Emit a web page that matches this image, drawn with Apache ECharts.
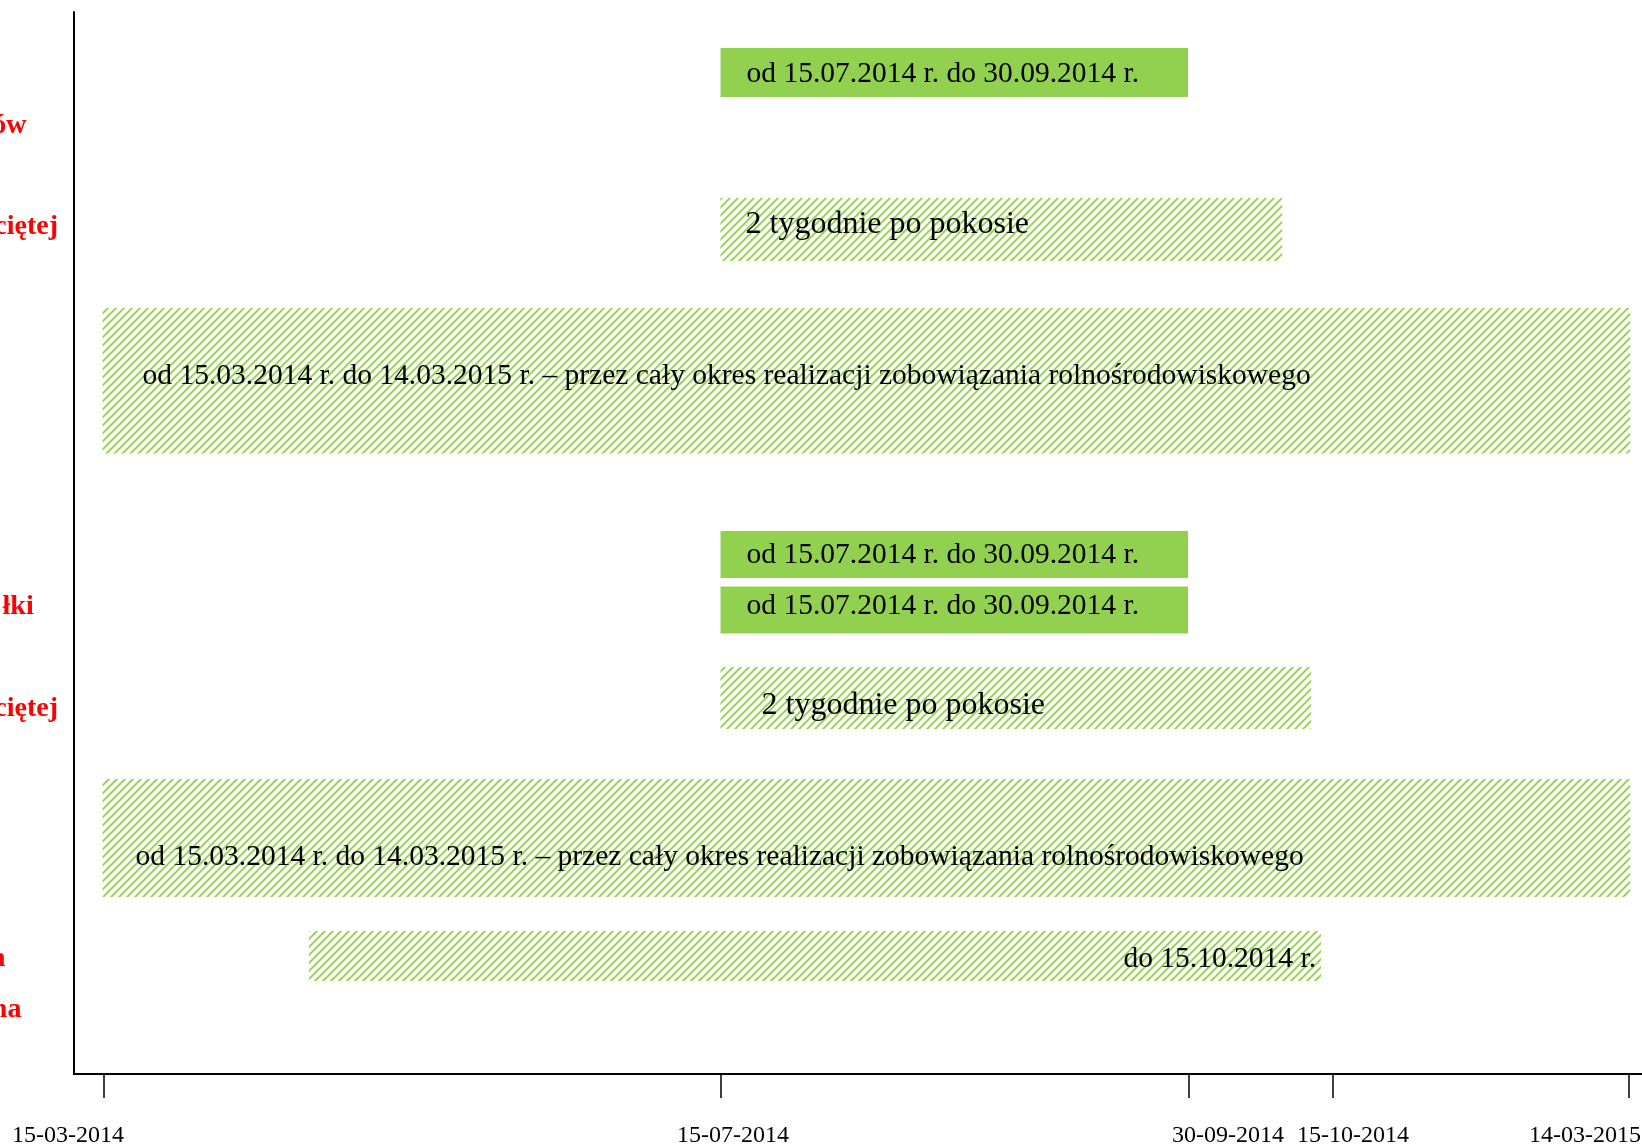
<!DOCTYPE html>
<html><head><meta charset="utf-8">
<script src="https://cdn.jsdelivr.net/npm/echarts@6/dist/echarts.min.js"></script>
<style>html,body{margin:0;padding:0;background:#fff}#c{width:1642px;height:1146px}</style>
</head><body><div id="c"></div>
<script>
// ---- data ----
// date ticks and their positions on the (non-linear) schedule scale
const tickLabels = ['15-03-2014', '15-07-2014', '30-09-2014', '15-10-2014', '14-03-2015'];
const tickPositions = [30, 646.5, 1115, 1259, 1555];

// row label fragments visible on the left (cut off in the source picture)
const rowLabels = ['ów', 'ciętej', 'łki', 'ciętej', 'a', 'na'];
const rowLabelPositions = [114, 215, 595, 697, 947, 998];

// schedule bars
const barTexts = [
  'od 15.07.2014 r. do 30.09.2014 r.',
  '2 tygodnie po pokosie',
  'od 15.03.2014 r. do 14.03.2015 r. – przez cały okres realizacji zobowiązania rolnośrodowiskowego',
  'od 15.07.2014 r. do 30.09.2014 r.',
  'od 15.07.2014 r. do 30.09.2014 r.',
  '2 tygodnie po pokosie',
  'od 15.03.2014 r. do 14.03.2015 r. – przez cały okres realizacji zobowiązania rolnośrodowiskowego',
  'do 15.10.2014 r.'
];
const barStart  = [646.5, 646.5, 28.5, 646.5, 646.5, 646.5, 28.5, 235];
const barEnd    = [1114, 1208, 1556, 1114, 1114, 1237, 1556, 1247];
const barTop    = [36, 186, 296, 519, 574.5, 655, 767, 919];
const barBottom = [85, 249, 441.5, 566, 621.5, 717, 885, 969];
const barKind   = ['solid', 'hatched', 'hatched', 'solid', 'solid', 'hatched', 'hatched', 'hatched'];

// ---- styling (not data) ----
const GREEN = '#92D050';
const FONT = '"Liberation Serif", "Times New Roman", serif';
const textLayout = [
  {align: 'left', dx: 26, dy: 2, size: 29.5},
  {align: 'left', dx: 25, dy: -5, size: 32},
  {align: 'left', dx: 40, dy: -5, size: 29.5},
  {align: 'left', dx: 26, dy: 1, size: 29.5},
  {align: 'left', dx: 26, dy: -4, size: 29.5},
  {align: 'left', dx: 41, dy: 8, size: 32},
  {align: 'left', dx: 33, dy: 19, size: 29.5},
  {align: 'right', dx: 5, dy: 3, size: 29.5}
];
const tickLabelShift = [-36, 12.5, 39, 20, -44];
const rowLabelExtraRight = [31.6, 0, 24.3, 0, 52.6, 36.6];

function makeHatch() {
  const c = document.createElement('canvas');
  c.width = 8; c.height = 8;
  const g = c.getContext('2d');
  g.strokeStyle = GREEN; g.lineWidth = 1.8;
  g.beginPath();
  g.moveTo(-2, 10); g.lineTo(10, -2);
  g.moveTo(-2, 2); g.lineTo(2, -2);
  g.moveTo(6, 10); g.lineTo(10, 6);
  g.stroke();
  return c;
}
const hatchFill = {image: makeHatch(), repeat: 'repeat'};

const tickRich = {};
tickLabels.forEach((t, i) => {
  const d = tickLabelShift[i];
  tickRich['t' + i] = {
    fontFamily: FONT, fontSize: 24, color: '#000',
    padding: d >= 0 ? [0, 0, 0, 2 * d] : [0, -2 * d, 0, 0]
  };
});
const rowRich = {};
rowLabels.forEach((t, i) => {
  rowRich['r' + i] = {
    fontFamily: FONT, fontSize: 28, fontWeight: 'bold', color: '#FF0000',
    padding: [0, rowLabelExtraRight[i], 0, 0]
  };
});

const seriesData = barTexts.map((t, i) => [barStart[i], barEnd[i], barTop[i], barBottom[i]]);

const chart = echarts.init(document.getElementById('c'), null, {renderer: 'canvas'});
chart.setOption({
  animation: false,
  backgroundColor: '#fff',
  grid: {left: 74, right: 0, top: 12, bottom: 72, containLabel: false, outerBoundsMode: 'none'},
  xAxis: {
    type: 'value', min: 0, max: 1568,
    axisLine: {show: true, onZero: false, lineStyle: {color: '#000', width: 2}},
    axisTick: {show: true, customValues: tickPositions, length: 24, lineStyle: {color: '#000', width: 1.5}},
    axisLabel: {
      show: true, customValues: tickPositions, margin: 50, hideOverlap: false,
      fontFamily: FONT, fontSize: 24, color: '#000',
      formatter: (v) => {
        const i = tickPositions.indexOf(v);
        return i < 0 ? '' : '{t' + i + '|' + tickLabels[i] + '}';
      },
      rich: tickRich
    },
    splitLine: {show: false}
  },
  yAxis: {
    type: 'value', inverse: true, min: 0, max: 1062,
    axisLine: {show: true, onZero: false, lineStyle: {color: '#000', width: 2}},
    axisTick: {show: false},
    axisLabel: {
      show: true, customValues: rowLabelPositions, margin: 16, hideOverlap: false,
      fontFamily: FONT, fontSize: 28, fontWeight: 'bold', color: '#FF0000',
      formatter: (v) => {
        const i = rowLabelPositions.indexOf(v);
        return i < 0 ? '' : '{r' + i + '|' + rowLabels[i] + '}';
      },
      rich: rowRich
    },
    splitLine: {show: false}
  },
  series: [{
    type: 'custom',
    clip: false,
    encode: {x: [0, 1], y: [2, 3]},
    data: seriesData,
    renderItem: (params, api) => {
      const i = params.dataIndex;
      const a = api.coord([api.value(0), api.value(2)]);
      const b = api.coord([api.value(1), api.value(3)]);
      const L = textLayout[i];
      const cy = (a[1] + b[1]) / 2 + L.dy;
      const tx = L.align === 'left' ? a[0] + L.dx : b[0] - L.dx;
      return {
        type: 'group',
        children: [
          {type: 'rect', shape: {x: a[0], y: a[1], width: b[0] - a[0], height: b[1] - a[1]},
           style: {fill: barKind[i] === 'solid' ? GREEN : hatchFill}},
          {type: 'text', x: tx, y: cy,
           style: {text: barTexts[i], fill: '#000', fontSize: L.size, fontFamily: FONT,
                   align: L.align, verticalAlign: 'middle'}}
        ]
      };
    }
  }]
});
</script>
</body></html>
